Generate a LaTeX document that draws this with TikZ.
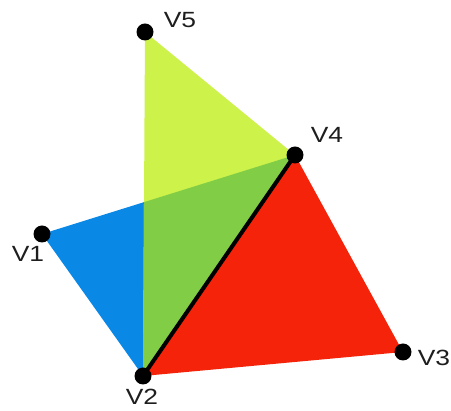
\documentclass[tikz,border=0pt]{standalone}
\usepackage{fontspec}
\setmainfont{Liberation Sans}
\newfontfamily\lblfont[FakeStretch=1.2]{Liberation Sans}
\definecolor{cblue}{RGB}{10,136,230}
\definecolor{cyel}{RGB}{205,242,74}
\definecolor{cgreen}{RGB}{130,205,70}
\definecolor{cred}{RGB}{245,35,10}
\definecolor{ctext}{RGB}{30,30,30}
\begin{document}
\begin{tikzpicture}[x=1pt,y=-1pt,
  vdot/.style={circle,fill=black,inner sep=0pt,minimum size=17pt},
  vlabel/.style={text=ctext,font=\lblfont\fontsize{22}{26}\selectfont,inner sep=0pt}]
\useasboundingbox (0,0) rectangle (451,411);
\coordinate (V1) at (42,234);
\coordinate (V2) at (143,376);
\coordinate (V3) at (403,352);
\coordinate (V4) at (295,155);
\coordinate (V5) at (145,32);
\coordinate (X) at (intersection of V1--V4 and V5--V2);
\fill[cblue] (V1) -- (V2) -- (V4) -- cycle;
\fill[cyel] (V5) -- (V2) -- (V4) -- cycle;
\fill[cgreen] (X) -- (V4) -- (V2) -- cycle;
\fill[cred] (V2) -- (V3) -- (V4) -- cycle;
\draw[line width=4pt] (V2) -- (V4);
\foreach \p in {V1,V2,V3,V4,V5} \node[vdot] (d\p) at (\p) {};
\node[vlabel] (l5) at (180,20) {V5};
\node[vlabel] (l4) at (327,135) {V4};
\node[vlabel] (l1) at (28,254) {V1};
\node[vlabel] (l2) at (142,397) {V2};
\node[vlabel] (l3) at (434,358) {V3};
\end{tikzpicture}
\end{document}
